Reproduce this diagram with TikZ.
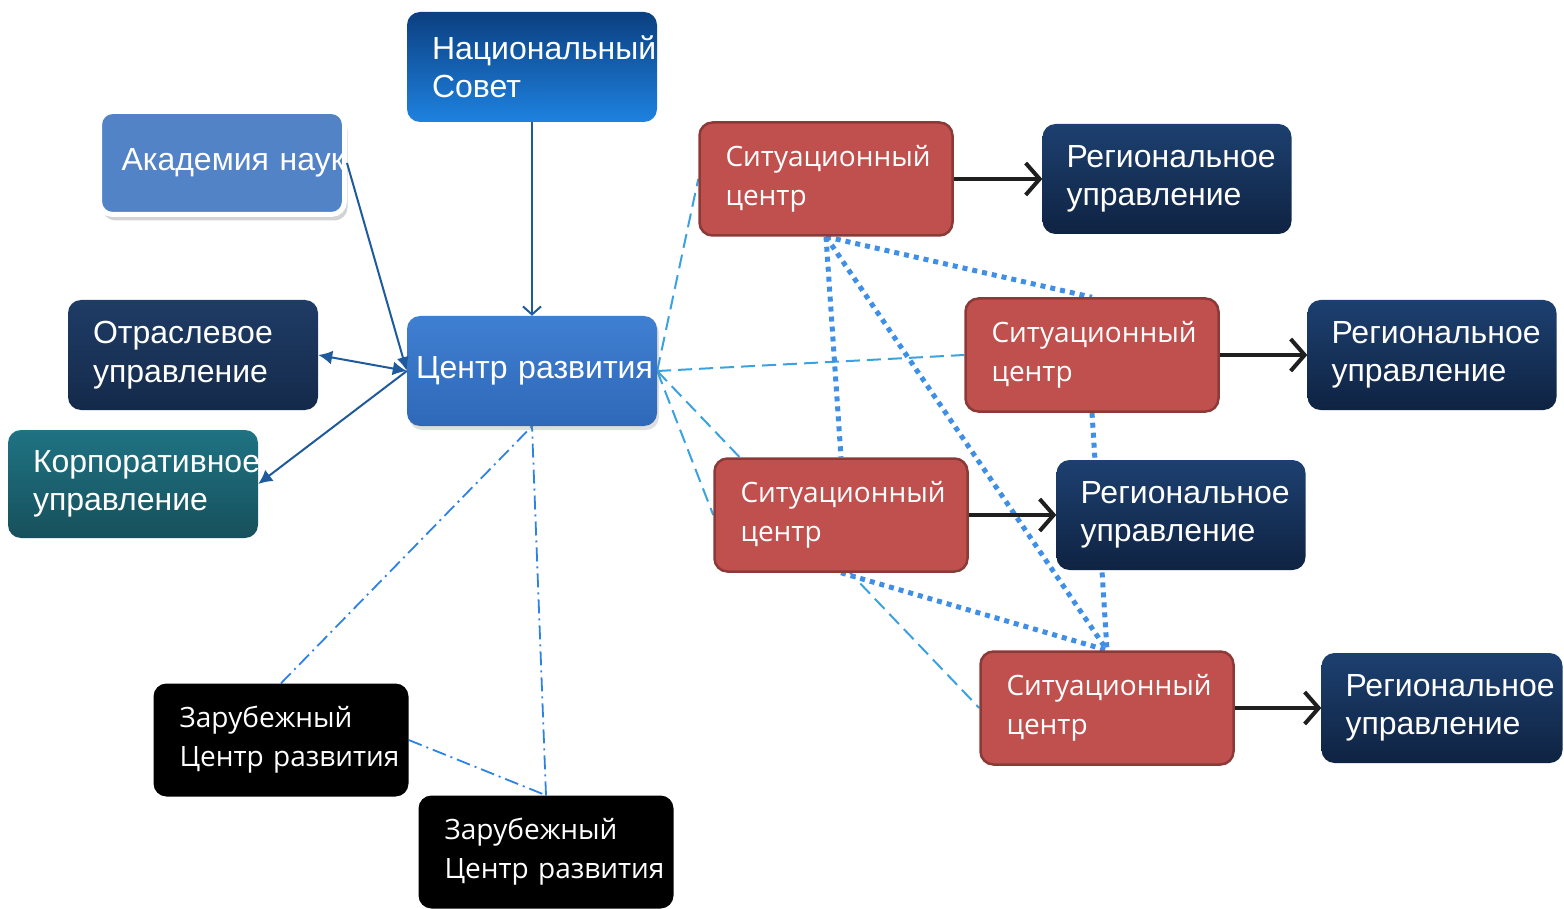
\documentclass[tikz,border=0pt]{standalone}
\usepackage{fontspec}
\setmainfont{Liberation Sans}
\newfontfamily\scfont{Open Sans}
\usepackage{tikz}
\usetikzlibrary{arrows.meta, shadows, backgrounds}

\definecolor{scred}{HTML}{C0504D}
\definecolor{scborder}{HTML}{8C3A38}
\definecolor{navytop}{HTML}{1D4070}
\definecolor{navybot}{HTML}{0F2342}
\definecolor{linkblue}{HTML}{1F5A9C}
\definecolor{dashblue}{HTML}{3AA2DE}
\definecolor{dotblue}{HTML}{3F8FE6}
\definecolor{nactop}{HTML}{0B3F80}
\definecolor{nacbot}{HTML}{1E82E0}
\definecolor{akfill}{HTML}{5283C7}
\definecolor{crtop}{HTML}{3F7FD2}
\definecolor{crbot}{HTML}{2F68B8}
\definecolor{otrtop}{HTML}{1F3C66}
\definecolor{otrbot}{HTML}{142A4A}
\definecolor{korptop}{HTML}{1F7383}
\definecolor{korpbot}{HTML}{17505C}

\begin{document}
\begin{tikzpicture}[x=1pt, y=-1pt,
        box/.style = {rounded corners=13pt, minimum height=110pt, align=left, text=white,
                      inner xsep=25pt, inner ysep=0pt, text width=200pt,
                      font=\fontsize{32}{38.5}\selectfont},
        sit/.style = {box, fill=scred, draw=scborder, line width=2.5pt, inner xsep=26pt,
                      text width=201pt, minimum height=113pt, font=\scfont\fontsize{28}{39}\selectfont},
        reg/.style = {box, top color=navytop, bottom color=navybot, draw=none, inner xsep=24pt, text width=201pt},
        abroad/.style = {box, fill=black, inner xsep=26pt, text width=203pt, minimum height=113pt,
                      font=\scfont\fontsize{28}{39}\selectfont},
        link/.style = {linkblue, line width=2pt},
        dashlink/.style = {dashblue, line width=2pt, dash pattern=on 14pt off 7pt},
        dotlink/.style = {dotblue, line width=5pt, dash pattern=on 5pt off 5pt},
        dotdash/.style = {dashblue!80!blue, line width=1.8pt, dash pattern=on 14pt off 5pt on 2pt off 5pt},
        toreg/.style = {line width=4pt, black!88, -{Straight Barb[length=14pt, width=32pt, line width=4pt]}}]
    \useasboundingbox (0, 0) rectangle (1564, 909);

    \node[box, top color=nactop, bottom color=nacbot] (nac) at (532, 67) {Национальный\\Совет};
    \node[box, fill=akfill, draw=white, line width=5pt, inner xsep=22pt, text width=201pt, minimum height=103pt,
          drop shadow={opacity=0.35, shadow xshift=3pt, shadow yshift=-6pt}] (ak) at (222, 163) {Академия~наук};
    \node[box, top color=crtop, bottom color=crbot, inner xsep=9pt, text width=232pt,
          drop shadow={opacity=0.25, shadow xshift=2pt, shadow yshift=-4pt}] (cr) at (532, 371) {Центр~развития};
    \node[box, top color=otrtop, bottom color=otrbot] (otr) at (193, 355) {Отраслевое\\управление};
    \node[box, top color=korptop, bottom color=korpbot, minimum height=108pt] (korp) at (133, 484) {Корпоративное\\управление};
    \node[abroad] (zr1) at (281, 740) {Зарубежный\\Центр~развития};
    \node[abroad] (zr2) at (546, 852) {Зарубежный\\Центр~развития};

    \node[sit] (sc1) at (826, 179) {Ситуационный\\центр};
    \node[sit] (sc2) at (1092, 355) {Ситуационный\\центр};
    \node[sit] (sc3) at (841, 515) {Ситуационный\\центр};
    \node[sit] (sc4) at (1107, 708) {Ситуационный\\центр};
    \node[reg] (reg1) at (1167, 179) {Региональное\\управление};
    \node[reg] (reg2) at (1432, 355) {Региональное\\управление};
    \node[reg] (reg3) at (1181, 515) {Региональное\\управление};
    \node[reg, text width=193pt] (reg4) at (1442, 708) {Региональное\\управление};

    \begin{pgfonlayer}{background}
        \draw[dashlink] (cr.east) -- (sc1.west);
        \draw[dashlink] (cr.east) -- (sc2.west);
        \draw[dashlink] (cr.east) -- (sc3.west);
        \draw[dashlink] (cr.east) -- (sc4.west);
        \draw[dotlink] (sc1.south) -- (sc2.north);
        \draw[dotlink] (sc1.south) -- (sc3.north);
        \draw[dotlink] (sc1.south) -- (sc4.north);
        \draw[dotlink] (sc2.south) -- (sc4.north);
        \draw[dotlink] (sc3.south) -- (sc4.north);
        \draw[dotdash] (zr1.north) -- (cr.south);
        \draw[dotdash] (zr2.north) -- (cr.south);
        \draw[dotdash] (zr1.east) -- (zr2.north);
    \end{pgfonlayer}

    \draw[link, -{Straight Barb[length=8pt, width=18pt, line width=2pt]}] (nac.south) -- (cr.north);
    \draw[link, -{Latex[length=14pt, width=12pt]}] (ak.east) -- (cr.west);
    \draw[link, {Latex[length=14pt, width=14pt]}-{Latex[length=14pt, width=14pt]}] (otr.east) -- (cr.west);
    \draw[link, -{Latex[length=14pt, width=14pt]}] (cr.west) -- (korp.east);

    \draw[toreg] (sc1.east) -- (reg1.west);
    \draw[toreg] (sc2.east) -- (reg2.west);
    \draw[toreg] (sc3.east) -- (reg3.west);
    \draw[toreg] (sc4.east) -- (reg4.west);
\end{tikzpicture}
\end{document}
